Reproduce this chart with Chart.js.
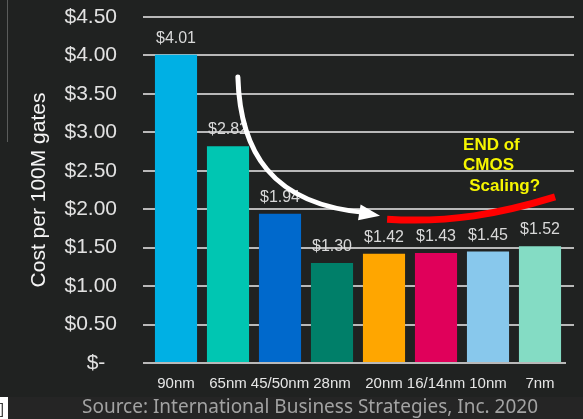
<!DOCTYPE html>
<html>
<head>
<meta charset="utf-8">
<script src="https://cdn.jsdelivr.net/npm/chart.js@4.4.1/dist/chart.umd.min.js"></script>
<style>
  html, body { margin: 0; padding: 0; background: #202221; }
  #wrap { position: relative; width: 583px; height: 419px; }
</style>
</head>
<body>
<div id="wrap"><canvas id="myChart"></canvas></div>
<script>
// process nodes and their cost per 100M gates (USD)
var nodes = ['90nm', '65nm', '45/50nm', '28nm', '20nm', '16/14nm', '10nm', '7nm'];
var costs = [4.01, 2.82, 1.94, 1.30, 1.42, 1.43, 1.45, 1.52];
var barColors = ['#00b0e4', '#00c6b2', '#0069cc', '#007f69', '#ffa600', '#e0005a', '#88c8ec', '#84dcc4'];
var yTicks = [0, 0.5, 1, 1.5, 2, 2.5, 3, 3.5, 4, 4.5];
var sourceNote = 'Source: International Business Strategies, Inc. 2020';
var calloutLines = ['END of', 'CMOS', 'Scaling?'];

// annotation anchors, in (category index, cost) units
var calloutPos = [[5.52, 2.77], [5.52, 2.51], [5.64, 2.24]];
var arrowPath = [[1.19, 3.72], [1.23, 2.77], [1.81, 2.05], [3.77, 1.94]];
var redPath = [[4.06, 1.87], [5.27, 1.82], [6.23, 1.94], [7.29, 2.16]];

var grid = '#b9b9b9';
var sans = 'Liberation Sans, Arial, sans-serif';

function money(v) {
	return v === 0 ? '$-  ' : '$' + v.toFixed(2);
}

// value labels above each bar
var valueLabels = {
	id: 'valueLabels',
	afterDatasetsDraw: function (chart) {
		var ctx = chart.ctx;
		var meta = chart.getDatasetMeta(0);
		ctx.save();
		ctx.font = '16px ' + sans;
		ctx.fillStyle = '#d9d9d9';
		ctx.textAlign = 'center';
		ctx.textBaseline = 'alphabetic';
		meta.data.forEach(function (bar, i) {
			ctx.fillText(money(costs[i]), bar.x, bar.y - 12);
		});
		ctx.restore();
	}
};

// white arrow, red trend stroke, yellow question and the source line
var extras = {
	id: 'extras',
	afterDraw: function (chart) {
		var ctx = chart.ctx;
		var xs = chart.scales.x, ys = chart.scales.y;
		function pt(p) { return [xs.getPixelForValue(p[0]), ys.getPixelForValue(p[1])]; }

		ctx.save();
		// arrow
		var a = arrowPath.map(pt);
		ctx.strokeStyle = '#ffffff';
		ctx.lineWidth = 5;
		ctx.lineCap = 'round';
		ctx.beginPath();
		ctx.moveTo(a[0][0], a[0][1]);
		ctx.bezierCurveTo(a[1][0], a[1][1], a[2][0], a[2][1], a[3][0] - 4, a[3][1] - 1);
		ctx.stroke();
		var ang = Math.atan2(a[3][1] - a[2][1], a[3][0] - a[2][0]) + 0.08;
		var tip = [a[3][0] + 8, a[3][1] + 2];
		ctx.fillStyle = '#ffffff';
		ctx.beginPath();
		ctx.moveTo(tip[0], tip[1]);
		ctx.lineTo(tip[0] - 21 * Math.cos(ang) + 8 * Math.sin(ang), tip[1] - 21 * Math.sin(ang) - 8 * Math.cos(ang));
		ctx.lineTo(tip[0] - 21 * Math.cos(ang) - 8 * Math.sin(ang), tip[1] - 21 * Math.sin(ang) + 8 * Math.cos(ang));
		ctx.closePath();
		ctx.fill();

		// red stroke
		var r = redPath.map(pt);
		ctx.strokeStyle = '#ff0000';
		ctx.lineWidth = 7;
		ctx.lineCap = 'butt';
		ctx.beginPath();
		ctx.moveTo(r[0][0], r[0][1]);
		ctx.bezierCurveTo(r[1][0], r[1][1], r[2][0], r[2][1], r[3][0], r[3][1]);
		ctx.stroke();

		// callout text
		ctx.font = 'bold 17px ' + sans;
		ctx.fillStyle = '#f6f600';
		ctx.textAlign = 'left';
		ctx.textBaseline = 'alphabetic';
		calloutLines.forEach(function (line, i) {
			var p = pt(calloutPos[i]);
			ctx.fillText(line, p[0], p[1]);
		});

		// bottom strip with source
		ctx.fillStyle = '#252525';
		ctx.fillRect(8, 397, chart.width - 8, chart.height - 397);
		ctx.fillStyle = '#ffffff';
		ctx.fillRect(0, 397, 8, chart.height - 397);
		ctx.fillStyle = '#333333';
		ctx.font = '14px ' + sans;
		ctx.fillText(']', 0, 414);
		ctx.fillStyle = '#5a5c5b';
		ctx.fillRect(7, 0, 1, 142);

		ctx.font = '19px Noto Sans, sans-serif';
		ctx.fillStyle = '#a3a3a3';
		var w = ctx.measureText(sourceNote).width;
		ctx.translate(82, 413);
		ctx.scale(456 / w, 1);
		ctx.fillText(sourceNote, 0, 0);
		ctx.restore();
	}
};

var ctx = document.getElementById('myChart').getContext('2d');
var chart = new Chart(ctx, {
	type: 'bar',
	data: {
		labels: nodes,
		datasets: [{
			data: costs,
			backgroundColor: barColors,
			borderWidth: 0,
			categoryPercentage: 1,
			barPercentage: 0.81
		}]
	},
	options: {
		responsive: true,
		maintainAspectRatio: false,
		animation: false,
		layout: { padding: { top: 17, left: 0, right: 0, bottom: 0 } },
		plugins: {
			legend: { display: false },
			tooltip: { enabled: false }
		},
		scales: {
			x: {
				grid: { display: false },
				border: { display: false },
				ticks: {
					color: '#e6e6e6',
					font: { family: sans, size: 15 },
					padding: 4,
					maxRotation: 0,
					autoSkip: false
				},
				afterFit: function (scale) { scale.height = 56; }
			},
			y: {
				min: 0,
				max: 4.5,
				afterBuildTicks: function (scale) {
					scale.ticks = yTicks.map(function (v) { return { value: v }; });
				},
				grid: { color: grid, lineWidth: 2, tickLength: 7 },
				border: { display: false },
				ticks: {
					color: '#e2e2e2',
					font: { family: sans, size: 21 },
					padding: 26,
					callback: function (v) { return money(v); }
				},
				title: {
					display: true,
					text: 'Cost per 100M gates',
					color: '#f4f4f4',
					font: { family: sans, size: 21 },
					padding: { top: 27, bottom: 0 }
				},
				afterFit: function (scale) {
					scale.width = 150;
					// tick padding is horizontal only here
					scale.paddingTop = 0;
					scale.paddingBottom = 0;
				}
			},
			y2: {
				position: 'right',
				min: 0,
				max: 4.5,
				afterBuildTicks: function (scale) {
					scale.ticks = yTicks.map(function (v) { return { value: v }; });
				},
				grid: {
					drawOnChartArea: false,
					tickLength: 8,
					lineWidth: 2,
					color: function (c) { return c.tick && c.tick.value === 0 ? 'rgba(0,0,0,0)' : grid; }
				},
				border: { display: false },
				ticks: { display: false },
				afterFit: function (scale) {
					scale.width = 17;
					scale.paddingTop = 0;
					scale.paddingBottom = 0;
				}
			}
		}
	},
	plugins: [valueLabels, extras]
});
</script>
</body>
</html>
